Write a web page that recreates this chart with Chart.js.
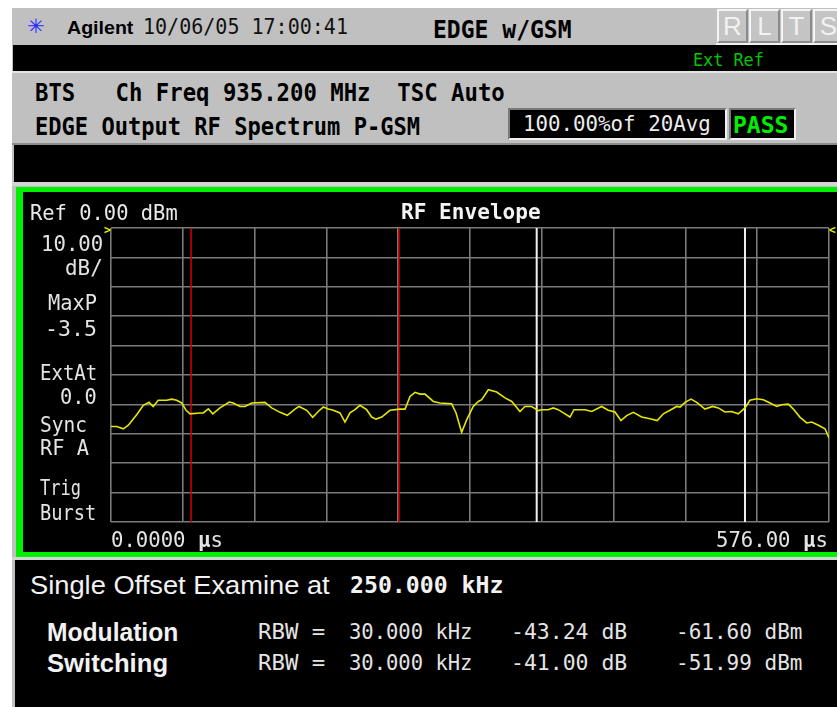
<!DOCTYPE html>
<html><head><meta charset="utf-8">
<script src="https://cdn.jsdelivr.net/npm/chart.js@4.4.1/dist/chart.umd.min.js"></script>
<style>
html,body{margin:0;padding:0;background:#fff;}
#screen{position:relative;width:837px;height:707px;overflow:hidden;background:#fff;}
.b{position:absolute;}
.t{position:absolute;white-space:pre;line-height:1;transform-origin:0 50%;}
.k{position:absolute;top:9px;width:27px;height:30px;background:#c4c4c4;border-top:2px solid #f4f4f4;border-left:2px solid #f4f4f4;border-bottom:2px solid #8a8a8a;border-right:2px solid #8a8a8a;color:#f2f2f2;font:26px 'Liberation Sans',Arial,sans-serif;text-align:center;line-height:30px;}
#plot{position:absolute;left:101px;top:218px;}
</style></head><body>
<div id="screen">
  <div class="b" style="left:12px;top:8px;width:825px;height:699px;background:#c0c0c0"></div>
  <div class="b" style="left:13px;top:45px;width:824px;height:26px;background:#000"></div>
  <div class="b" style="left:12px;top:71px;width:825px;height:2px;background:#e4e4e4"></div>
  <div class="b" style="left:12px;top:143px;width:825px;height:2px;background:#8c8c8c"></div>
  <div class="b" style="left:14px;top:145px;width:823px;height:37px;background:#000"></div>
  <div class="b" style="left:12px;top:182px;width:825px;height:4px;background:#d4d4d4"></div>
  <div class="b" style="left:16px;top:187px;width:821px;height:370px;background:#00f000"></div>
  <div class="b" style="left:23px;top:192px;width:814px;height:360px;background:#000"></div>
  <div class="b" style="left:12px;top:557px;width:825px;height:3px;background:#d4d4d4"></div>
  <div class="b" style="left:15px;top:560px;width:822px;height:147px;background:#000"></div>
  <div class="b" style="left:508px;top:108px;width:215px;height:28px;background:#000;border:2px solid #f0f0f0;border-top-color:#7a7a7a;border-left-color:#7a7a7a"></div>
  <div class="b" style="left:729px;top:108px;width:63px;height:28px;background:#000;border:2px solid #f0f0f0;border-top-color:#7a7a7a;border-left-color:#7a7a7a"></div>
  <div class="k" style="left:717px">R</div>
  <div class="k" style="left:749px">L</div>
  <div class="k" style="left:781px">T</div>
  <div class="k" style="left:813px">S</div>
  <div class="b" style="left:716px;top:43px;width:121px;height:2px;background:#f0f0f0"></div>
  <canvas id="plot" width="738" height="314" style="width:738px;height:314px"></canvas>
</div>
<script>
// ---- chart data (time in µs, level in dBm) ----
const traceTime = [0.0,4.6,9.9,13.9,20.6,25.9,30.5,33.9,37.9,44.7,
  48.7,52.7,56.7,60.2,63.4,71.4,74.0,78.1,81.6,87.4,
  94.9,98.1,103.5,107.5,112.9,123.5,128.9,135.6,141.4,147.6,
  150.8,157.0,161.8,166.3,170.3,174.3,178.3,183.7,187.7,191.7,
  195.7,199.7,205.1,209.1,212.6,217.2,223.8,231.8,235.9,239.9,
  243.9,247.9,251.9,258.6,263.9,273.3,276.8,281.3,285.4,290.6,
  294.7,297.4,302.7,309.4,316.1,321.5,328.1,332.1,337.5,342.8,
  345.5,350.8,354.8,358.8,364.2,368.2,371.4,380.3,385.6,393.6,
  398.9,404.3,409.1,413.7,419.0,425.7,432.4,438.2,443.1,448.4,
  453.8,456.5,460.5,465.3,469.9,476.5,482.7,487.2,492.5,497.9,
  503.2,508.6,512.6,518.0,523.3,528.7,534.1,538.1,543.4,547.4,
  552.8,558.2,562.2,567.5,572.8,576.0];
const traceLevel = [-67.5,-67.5,-68.3,-67.1,-63.5,-60.3,-59.3,-60.7,-58.6,-58.6,
  -58.2,-58.6,-59.5,-62.0,-63.2,-62.9,-62.9,-61.5,-63.2,-61.2,
  -59.2,-59.5,-60.7,-60.7,-59.5,-59.3,-61.2,-62.7,-63.7,-61.6,
  -60.7,-62.0,-64.4,-62.4,-60.9,-61.6,-62.0,-62.9,-66.0,-62.9,
  -61.8,-60.3,-61.8,-64.3,-65.0,-64.3,-62.0,-61.6,-61.6,-57.3,
  -55.9,-56.5,-56.5,-59.0,-59.5,-59.8,-62.9,-69.5,-65.2,-60.7,
  -59.0,-58.4,-55.0,-55.8,-57.8,-59.0,-62.4,-60.7,-60.7,-62.1,
  -61.8,-61.8,-61.2,-61.8,-63.2,-64.3,-61.8,-61.8,-62.4,-60.7,
  -62.0,-62.6,-65.5,-63.8,-62.7,-64.3,-64.9,-65.5,-63.2,-62.0,
  -60.7,-60.9,-59.3,-58.2,-59.3,-61.6,-60.7,-61.2,-62.6,-62.4,
  -63.2,-61.2,-58.6,-58.1,-58.4,-59.5,-60.7,-60.1,-59.9,-61.6,
  -64.4,-66.3,-66.0,-67.1,-68.3,-71.4];
const redMarkers = [64.2, 231.0];
const whiteMarkers = [341.5, 508.6];
const xGridTicks = [0, 57.6, 115.2, 172.8, 230.4, 288, 345.6, 403.2, 460.8, 518.4, 576];
const yGridTicks = [0, -10, -20, -30, -40, -50, -60, -70, -80, -90, -100];
const refLevel = 0, bottomLevel = -100, sweepStart = 0, sweepEnd = 576;

const datasets = [{
  data: traceTime.map((t, i) => ({x: t, y: traceLevel[i]})),
  showLine: true, borderColor: '#e6e600', borderWidth: 1.6, pointRadius: 0, order: 0
}];
redMarkers.forEach(t => datasets.push({data: [{x: t, y: refLevel}, {x: t, y: bottomLevel}],
  showLine: true, borderColor: '#d40000', borderWidth: 1.5, pointRadius: 0, order: 2}));
whiteMarkers.forEach(t => datasets.push({data: [{x: t, y: refLevel}, {x: t, y: bottomLevel}],
  showLine: true, borderColor: '#f0f0f0', borderWidth: 2, pointRadius: 0, order: 1}));

const gridOpts = {color: '#7a7a7a', lineWidth: 1.6, drawTicks: false};
new Chart(document.getElementById('plot'), {
  type: 'scatter',
  data: {datasets},
  options: {
    animation: false, responsive: false, maintainAspectRatio: false,
    layout: {padding: 10},
    plugins: {legend: {display: false}, tooltip: {enabled: false}},
    scales: {
      x: {type: 'linear', min: sweepStart, max: sweepEnd, ticks: {display: false}, grid: gridOpts,
          border: {display: false},
          afterBuildTicks: s => { s.ticks = xGridTicks.map(v => ({value: v})); },
          afterFit: s => { s.height = 0; }},
      y: {type: 'linear', min: bottomLevel, max: refLevel, ticks: {display: false}, grid: gridOpts,
          border: {display: false},
          afterBuildTicks: s => { s.ticks = yGridTicks.map(v => ({value: v})); },
          afterFit: s => { s.width = 0; }}
    }
  }
});

// ---- screen texts ----
const M = "'DejaVu Sans Mono', monospace", S = "'Liberation Sans', Arial, sans-serif";
const texts = [
  ['✳', 27, 26, 20, S, 'normal', '#2a2aff', 18],
  ['Agilent', 67, 27, 19, S, 'bold', '#000', 66],
  ['10/06/05 17:00:41', 143, 27, 21, M, 'normal', '#111', 205],
  ['EDGE w/GSM', 433, 29, 25, M, 'bold', '#000', 139],
  ['Ext Ref', 693, 60, 18, M, 'normal', '#00c800', 71],
  ['BTS   Ch Freq 935.200 MHz  TSC Auto', 35, 93, 24, M, 'bold', '#000', 470],
  ['EDGE Output RF Spectrum P-GSM', 35, 127, 24, M, 'bold', '#000', 385],
  ['100.00%of 20Avg', 523, 124, 22, M, 'normal', '#ececec', 188],
  ['PASS', 733, 125, 23, M, 'bold', '#00ee00', 55],
  ['Ref 0.00 dBm', 30, 213, 21, M, 'normal', '#e8e8e8', 148],
  ['RF Envelope', 401, 212, 22, M, 'bold', '#f4f4f4', 140],
  ['10.00', 41, 244, 22, M, 'normal', '#e4e4e4', 62],
  ['dB/', 65, 268, 22, M, 'normal', '#e4e4e4', 38],
  ['MaxP', 48, 303, 22, M, 'normal', '#e4e4e4', 49],
  ['-3.5', 45, 329, 22, M, 'normal', '#e4e4e4', 52],
  ['ExtAt', 40, 373, 22, M, 'normal', '#e4e4e4', 57],
  ['0.0', 60, 397, 22, M, 'normal', '#e4e4e4', 37],
  ['Sync', 40, 425, 22, M, 'normal', '#e4e4e4', 47],
  ['RF A', 40, 448, 22, M, 'normal', '#e4e4e4', 49],
  ['Trig', 40, 488, 22, M, 'normal', '#e4e4e4', 41],
  ['Burst', 40, 513, 22, M, 'normal', '#e4e4e4', 56],
  ['>', 104, 229, 13, M, 'bold', '#f0f000', 7],
  ['<', 829, 229, 13, M, 'bold', '#f0f000', 7],
  ['0.0000 <b>µ</b>s', 111, 540, 21, M, 'normal', '#e4e4e4', 112],
  ['576.00 <b>µ</b>s', 716, 540, 21, M, 'normal', '#e4e4e4', 112],
  ['Single Offset Examine at', 30, 585, 25, S, 'normal', '#f2f2f2', 300],
  ['250.000 kHz', 350, 585, 23, M, 'bold', '#f2f2f2', 153],
  ['Modulation', 47, 632, 25, S, 'bold', '#f2f2f2', 131],
  ['Switching', 47, 663, 25, S, 'bold', '#f2f2f2', 121],
  ['RBW =', 258, 632, 22, M, 'normal', '#e4e4e4', 67],
  ['30.000 kHz', 349, 632, 22, M, 'normal', '#e4e4e4', 123],
  ['-43.24 dB', 511, 632, 22, M, 'normal', '#e4e4e4', 116],
  ['-61.60 dBm', 676, 632, 22, M, 'normal', '#e4e4e4', 126],
  ['RBW =', 258, 663, 22, M, 'normal', '#e4e4e4', 67],
  ['30.000 kHz', 349, 663, 22, M, 'normal', '#e4e4e4', 123],
  ['-41.00 dB', 511, 663, 22, M, 'normal', '#e4e4e4', 116],
  ['-51.99 dBm', 676, 663, 22, M, 'normal', '#e4e4e4', 126]
];
const screen = document.getElementById('screen');
texts.forEach(([s, x, cy, size, fam, w, col, width]) => {
  const el = document.createElement('div');
  el.className = 't';
  el.innerHTML = s;
  el.style.cssText += `left:${x}px;top:${cy - 0.49 * size}px;font-size:${size}px;font-family:${fam};font-weight:${w};color:${col};`;
  screen.appendChild(el);
  const ow = el.offsetWidth;
  if (ow > 0) el.style.transform = `scaleX(${width / ow})`;
});
</script>
</body></html>
